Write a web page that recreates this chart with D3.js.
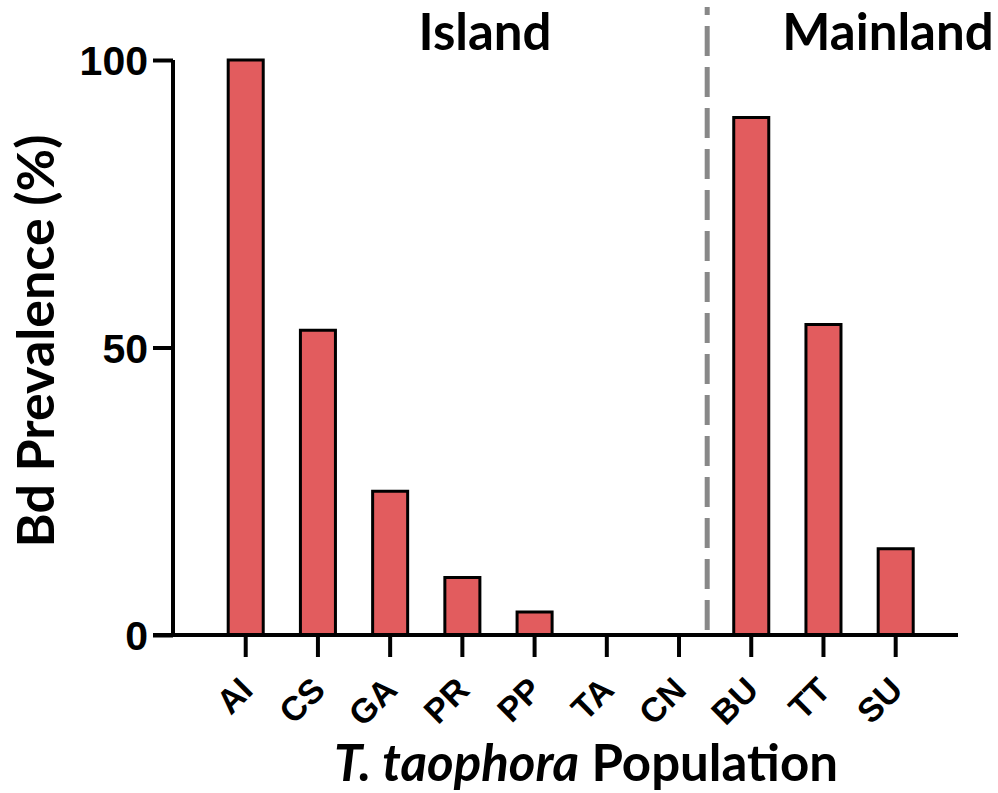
<!DOCTYPE html>
<html>
<head>
<meta charset="utf-8">
<script src="https://cdn.jsdelivr.net/npm/d3@7"></script>
<style>
  html, body { margin: 0; padding: 0; background: #fff; }
  svg text { font-weight: 700; fill: #000; }
  .title { font-family: Lato, "Open Sans", sans-serif; }
  .tick text { font-family: "Liberation Sans", Arial, sans-serif; }
</style>
</head>
<body>
<svg id="chart" width="998" height="793"></svg>
<script>
// Bd prevalence per T. taophora population
const populations = ["AI", "CS", "GA", "PR", "PP", "TA", "CN", "BU", "TT", "SU"];
const prevalence  = [100, 53, 25, 10, 4, 0, 0, 90, 54, 15];
const yTicks      = [0, 50, 100];
const groupLabels = ["Island", "Mainland"];
const dividerAfter = "CN";

const svg = d3.select("#chart");

const axisLeftX = 173, axisRightX = 958;
const yTop = 60, yBottom = 635;

const x = d3.scaleBand()
  .domain(populations)
  .range([209.6, 931.8])
  .paddingInner(0.515)
  .paddingOuter(0.2575);
const xc = p => x(p) + x.bandwidth() / 2;

const y = d3.scaleLinear().domain([0, 100]).range([yBottom, yTop]);

// bars
svg.append("g")
  .selectAll("rect")
  .data(populations.map((p, i) => ({ p, v: prevalence[i] })))
  .join("rect")
  .attr("x", d => x(d.p))
  .attr("y", d => y(d.v))
  .attr("width", x.bandwidth())
  .attr("height", d => y(0) - y(d.v))
  .attr("fill", "#e25c5e")
  .attr("stroke", "#000")
  .attr("stroke-width", 3);

// y axis
const yAxis = svg.append("g")
  .attr("transform", `translate(${axisLeftX},0)`)
  .call(d3.axisLeft(y).tickValues(yTicks).tickSize(20).tickSizeOuter(0).tickPadding(5));
yAxis.select(".domain").attr("stroke-width", 4).attr("d", `M0,${yTop}V${yBottom}`);
yAxis.selectAll(".tick line").attr("stroke-width", 4);
yAxis.selectAll(".tick text")
  .style("font-size", "41px")
  .attr("dy", "0.36em");

// x axis
const xAxis = svg.append("g")
  .attr("transform", `translate(0,${yBottom})`)
  .call(d3.axisBottom(x).tickSize(22).tickSizeOuter(0));
xAxis.select(".domain").remove();
xAxis.selectAll(".tick line").attr("stroke-width", 4);
xAxis.selectAll(".tick text")
  .style("font-size", "34px")
  .attr("text-anchor", "end")
  .attr("y", 0)
  .attr("dy", 0)
  .attr("transform", "translate(9,57) rotate(-45)");
svg.append("line")
  .attr("x1", axisLeftX - 20).attr("x2", axisRightX)
  .attr("y1", yBottom).attr("y2", yBottom)
  .attr("stroke", "#000").attr("stroke-width", 4);

// island / mainland divider
const divX = xc(dividerAfter) + x.step() * 0.39;
svg.append("line")
  .attr("x1", divX).attr("x2", divX)
  .attr("y1", 7).attr("y2", yBottom - 4)
  .attr("stroke", "#888").attr("stroke-width", 5)
  .attr("stroke-dasharray", "30,11")
  .attr("stroke-dashoffset", 22);

// group labels
svg.append("text").attr("class", "title").text(groupLabels[0])
  .attr("x", 485).attr("y", 50).attr("text-anchor", "middle")
  .style("font-size", "51px");
svg.append("text").attr("class", "title").text(groupLabels[1])
  .attr("x", 888).attr("y", 50).attr("text-anchor", "middle")
  .style("font-size", "51px");

// axis titles
svg.append("text").attr("class", "title")
  .attr("transform", `translate(54,341) rotate(-90)`)
  .attr("text-anchor", "middle")
  .style("font-size", "52px")
  .text("Bd Prevalence (%)");

const xt = svg.append("text").attr("class", "title")
  .attr("x", 586).attr("y", 781)
  .attr("text-anchor", "middle")
  .style("font-size", "51px");
xt.append("tspan").style("font-style", "italic").text("T. taophora");
xt.append("tspan").text(" Population");
</script>
</body>
</html>
